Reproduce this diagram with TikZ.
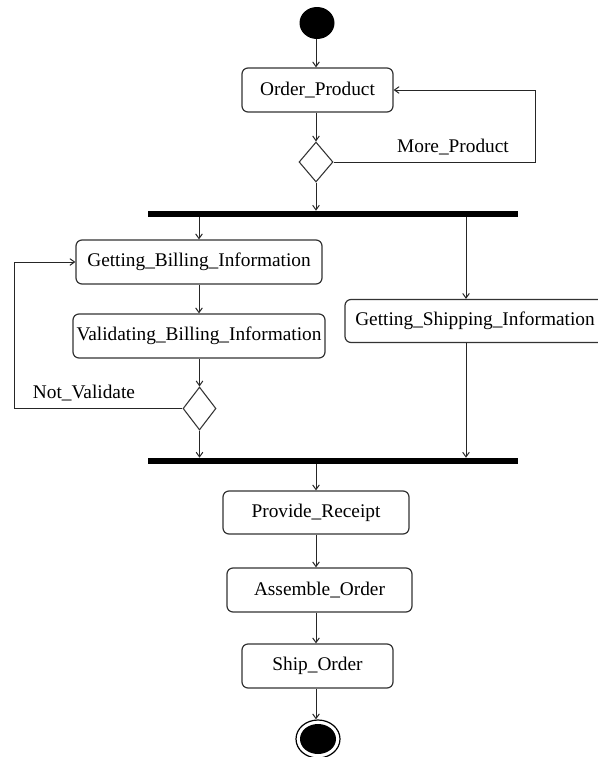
\documentclass[tikz,border=0pt]{standalone}
\usepackage{fontspec}
\setmainfont{Liberation Serif}
\usetikzlibrary{arrows.meta,shapes.geometric}
\begin{document}
\begin{tikzpicture}[x=0.75pt,y=-0.75pt,
  every node/.style={font=\fontsize{14.5}{17}\selectfont, inner sep=0pt},
  act/.style={draw=black!80, line width=0.9pt, rounded corners=4.5pt, minimum height=33pt},
  dec/.style={diamond, draw=black!80, line width=0.8pt, fill=white},
  bar/.style={rectangle, fill=black, minimum width=277.5pt, minimum height=4.5pt},
  arr/.style={draw=black!85, line width=0.75pt, -{Straight Barb[length=3.5pt,width=5pt]}},
  lbl/.style={}]
\useasboundingbox (0,0) rectangle (597,757);
% nodes
\node[ellipse, fill=black, minimum width=26.25pt, minimum height=24pt] (start) at (317,23) {};
\node[act, minimum width=113.25pt] (order) at (317.5,90) {Order\_Product};
\node[dec, minimum width=25.5pt, minimum height=30pt] (d1) at (316,162) {};
\node[bar] (fork) at (333,214) {};
\node[act, minimum width=184.5pt] (billing) at (199,262) {Getting\_Billing\_Information};
\node[act, minimum width=189pt] (valid) at (199,336) {Validating\_Billing\_Information};
\node[dec, minimum width=24.75pt, minimum height=32.25pt] (d2) at (199.5,408.5) {};
\node[act, minimum width=195pt, minimum height=32.25pt] (ship) at (475,321) {Getting\_Shipping\_Information};
\node[bar] (join) at (333,461) {};
\node[act, minimum width=139.5pt, minimum height=32.25pt] (receipt) at (316,512.5) {Provide\_Receipt};
\node[act, minimum width=138.75pt] (assemble) at (319.5,590) {Assemble\_Order};
\node[act, minimum width=113.25pt] (shiporder) at (317.5,666) {Ship\_Order};
\node[ellipse, draw=black, line width=0.9pt, fill=white, minimum width=33pt, minimum height=28.5pt] (endo) at (318,739) {};
\node[ellipse, fill=black, minimum width=27pt, minimum height=22.5pt] (endi) at (endo) {};
\node[lbl] (more) at (453,147) {More\_Product};
\node[lbl] (notv) at (84,393) {Not\_Validate};
% helper coordinates
\coordinate (lpr) at (535,0);
\coordinate (lpl) at (14.5,0);
\coordinate (sx) at (466,0);
\coordinate (mx) at (316,0);
% connectors
\draw[arr] (start.south -| mx) -- (order.north -| mx);
\draw[arr] (order.south -| mx) -- (d1.north -| mx);
\draw[arr] (d1.east) -- (d1.east -| lpr) -- (order.east -| lpr) -- (order.east);
\draw[arr] (d1.south -| mx) -- (fork.north -| mx);
\draw[arr] (fork.south -| billing.north) -- (billing.north);
\draw[arr] (fork.south -| sx) -- (ship.north -| sx);
\draw[arr] (billing.south) -- (valid.north);
\draw[arr] (valid.south -| d2.north) -- (d2.north);
\draw[arr] (d2.west) -- (d2.west -| lpl) -- (billing.west -| lpl) -- (billing.west);
\draw[arr] (d2.south) -- (d2.south |- join.north);
\draw[arr] (ship.south -| sx) -- (join.north -| sx);
\draw[arr] (join.south -| mx) -- (receipt.north -| mx);
\draw[arr] (receipt.south -| mx) -- (assemble.north -| mx);
\draw[arr] (assemble.south -| mx) -- (shiporder.north -| mx);
\draw[arr] (shiporder.south -| mx) -- (endo.north -| mx);
\end{tikzpicture}
\end{document}
